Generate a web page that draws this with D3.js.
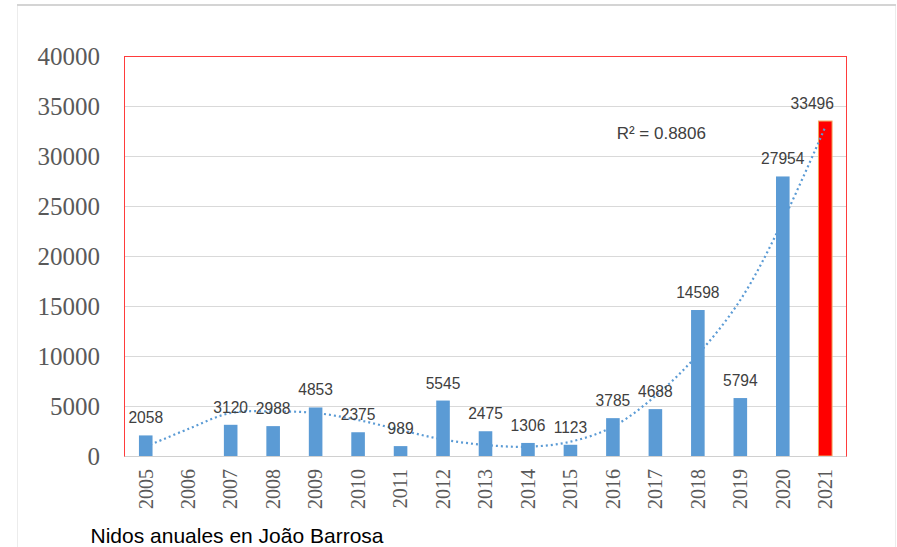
<!DOCTYPE html>
<html>
<head>
<meta charset="utf-8">
<script src="https://cdn.jsdelivr.net/npm/d3@7"></script>
<style>
  body { margin: 0; background: #fff; }
</style>
</head>
<body>
<svg id="chart" width="897" height="547"></svg>
<script>
var years = ["2005", "2006", "2007", "2008", "2009", "2010", "2011", "2012", "2013",
             "2014", "2015", "2016", "2017", "2018", "2019", "2020", "2021"];
var nests = [2058, null, 3120, 2988, 4853, 2375, 989, 5545, 2475,
             1306, 1123, 3785, 4688, 14598, 5794, 27954, 33496];
// dotted polynomial trend at each year
var trend = [930, 2700, 4300, 4450, 4300, 3600, 2600, 1650, 1100,
             930, 1430, 2930, 6000, 10150, 15600, 23500, 32900];
var yTicks = [0, 5000, 10000, 15000, 20000, 25000, 30000, 35000, 40000];
var highlightYear = "2021";
var r2Text = "R\u00b2 = 0.8806";
var caption = "Nidos anuales en Jo\u00e3o Barrosa";

var svg = d3.select("#chart"),
    plotLeft = 124.5, plotRight = 846.5, plotTop = 56, plotBottom = 456;

var data = years.map(function(d, i) { return {year: d, value: nests[i], trend: trend[i]}; });

var x = d3.scaleBand().domain(years).range([plotLeft, plotRight]).padding(0);
var y = d3.scaleLinear().domain([0, 40000]).range([plotBottom, plotTop]);
var barW = x.bandwidth() * 0.32;

/*
* outer frame
*/
svg.append("rect")
  .attr("x", 17.5).attr("y", 5).attr("width", 878).attr("height", 560)
  .attr("fill", "none").attr("stroke", "#ececec");
svg.append("line")
  .attr("x1", 17).attr("x2", 896).attr("y1", 5).attr("y2", 5)
  .attr("stroke", "#d4d4d4").attr("stroke-width", 2);

/*
* gridlines + y labels
*/
svg.append("g").selectAll("line")
  .data(yTicks.filter(function(d) { return d > 0 && d < 40000; }))
  .enter().append("line")
  .attr("x1", plotLeft).attr("x2", plotRight)
  .attr("y1", function(d) { return Math.round(y(d)) + 0.5; })
  .attr("y2", function(d) { return Math.round(y(d)) + 0.5; })
  .attr("stroke", "#d9d9d9");

svg.append("g").selectAll("text")
  .data(yTicks)
  .enter().append("text")
  .attr("x", 100)
  .attr("y", function(d) { return y(d); })
  .attr("dy", "0.34em")
  .attr("text-anchor", "end")
  .attr("font-family", "Liberation Serif")
  .attr("font-size", 25)
  .attr("fill", "#595959")
  .text(function(d) { return d; });

/*
* bars: highlighted one under the trend, the rest above it
*/
var bars = data.filter(function(d) { return d.value != null; });

svg.append("g").selectAll("rect")
  .data(bars.filter(function(d) { return d.year == highlightYear; }))
  .enter().append("rect")
  .attr("x", function(d) { return x(d.year) + (x.bandwidth() - barW) / 2; })
  .attr("y", function(d) { return y(d.value); })
  .attr("width", barW)
  .attr("height", function(d) { return y(0) - y(d.value); })
  .attr("fill", "#ff0000")
  .attr("stroke", "#f0a860")
  .attr("stroke-width", 1);

var line_function = d3.line()
  .x(function(d) { return x(d.year) + x.bandwidth() / 2; })
  .y(function(d) { return y(d.trend); })
  .curve(d3.curveCatmullRom);

svg.append("path")
  .attr("d", line_function(data))
  .attr("fill", "none")
  .attr("stroke", "#5b9bd5")
  .attr("stroke-width", 2.2)
  .attr("stroke-dasharray", "2 3");

svg.append("g").selectAll("rect")
  .data(bars.filter(function(d) { return d.year != highlightYear; }))
  .enter().append("rect")
  .attr("x", function(d) { return x(d.year) + (x.bandwidth() - barW) / 2; })
  .attr("y", function(d) { return y(d.value); })
  .attr("width", barW)
  .attr("height", function(d) { return y(0) - y(d.value); })
  .attr("fill", "#5b9bd5");

/*
* value labels
*/
svg.append("g").selectAll("text")
  .data(bars)
  .enter().append("text")
  .attr("x", function(d) { return x(d.year) + x.bandwidth() / 2 + (d.year == highlightYear ? -13 : 0); })
  .attr("y", function(d) { return y(d.value) - 12; })
  .attr("text-anchor", "middle")
  .attr("font-family", "Liberation Sans")
  .attr("font-size", 15.6)
  .attr("fill", "#404040")
  .text(function(d) { return d.value; });

svg.append("text")
  .attr("x", x("2016") + 25)
  .attr("y", y(31700))
  .attr("font-family", "Liberation Sans")
  .attr("font-size", 17)
  .attr("fill", "#404040")
  .text(r2Text);

/*
* plot border (red) and x axis
*/
svg.append("rect")
  .attr("x", plotLeft).attr("y", plotTop + 0.5)
  .attr("width", plotRight - plotLeft).attr("height", plotBottom - plotTop)
  .attr("fill", "none")
  .attr("stroke", "#ff3b3b")
  .attr("stroke-width", 1);

svg.append("line")
  .attr("x1", plotLeft).attr("x2", plotRight)
  .attr("y1", plotBottom + 0.5).attr("y2", plotBottom + 0.5)
  .attr("stroke", "#d0d0d0");

svg.append("g").selectAll("text")
  .data(years)
  .enter().append("text")
  .attr("transform", function(d) { return "translate(" + (x(d) + x.bandwidth() / 2) + "," + 469 + ") rotate(-90)"; })
  .attr("text-anchor", "end")
  .attr("dy", "0.34em")
  .attr("font-family", "Liberation Serif")
  .attr("font-size", 20)
  .attr("fill", "#595959")
  .text(function(d) { return d; });

svg.append("text")
  .attr("x", 90.5)
  .attr("y", 543)
  .attr("font-family", "Liberation Sans")
  .attr("font-size", 21)
  .attr("fill", "#000")
  .text(caption);
</script>
</body>
</html>
